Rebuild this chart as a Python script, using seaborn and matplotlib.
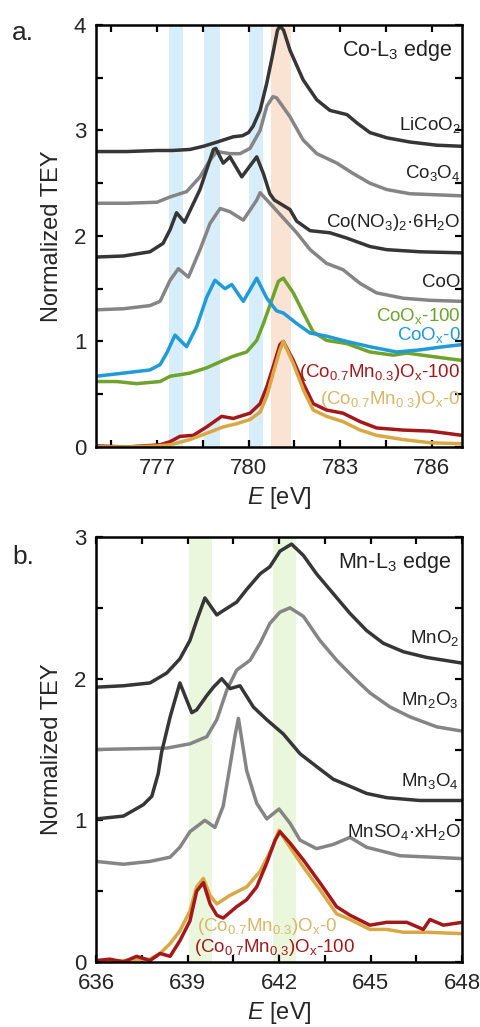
import numpy as np
import pandas as pd
import matplotlib
matplotlib.use("Agg")
import matplotlib.pyplot as plt
import seaborn as sns
from matplotlib.ticker import MultipleLocator

sns.set_theme(style="ticks")
plt.rcParams['font.family'] = ['Liberation Sans', 'DejaVu Sans']
plt.rcParams['mathtext.fontset'] = 'custom'
plt.rcParams['mathtext.rm'] = 'Liberation Sans'
plt.rcParams['mathtext.it'] = 'Liberation Sans:italic'

# ---------------- Panel a: Co-L3 edge ----------------
E_licoo2 = [775.0, 776.0, 777.0, 777.5, 778.08, 778.52, 778.97, 779.5, 779.8, 780.0, 780.15, 780.38, 780.6, 780.8,
            780.95, 781.03, 781.15, 781.36, 781.79, 782.24, 782.67, 783.23, 783.56, 783.98, 784.54, 785.3, 786.18, 787.0]
v_licoo2 = [2.80, 2.80, 2.81, 2.81, 2.82, 2.85, 2.89, 2.94, 2.95, 2.98, 3.04, 3.19, 3.45, 3.73,
            3.95, 3.99, 3.95, 3.76, 3.48, 3.29, 3.19, 3.15, 3.07, 2.98, 2.93, 2.89, 2.86, 2.85]

E_co3o4 = [775.0, 776.0, 777.0, 777.43, 777.97, 778.41, 778.74, 778.96, 779.39, 779.72, 780.05, 780.38, 780.6,
           780.8, 780.92, 781.36, 781.79, 782.24, 782.9, 783.44, 783.98, 784.53, 785.3, 786.17, 787.0]
v_co3o4 = [2.31, 2.31, 2.32, 2.37, 2.42, 2.56, 2.72, 2.80, 2.78, 2.78, 2.83, 3.00, 3.23,
           3.32, 3.31, 3.13, 2.91, 2.78, 2.69, 2.59, 2.50, 2.44, 2.40, 2.39, 2.38]

E_conit = [775.0, 775.9, 776.77, 777.2, 777.43, 777.64, 777.9, 778.41, 778.85, 778.93, 779.17, 779.39, 779.78,
           780.27, 780.49, 780.7, 780.85, 781.36, 781.58, 782.02, 782.67, 783.22, 783.98, 784.53, 785.62, 787.0]
v_conit = [1.80, 1.81, 1.85, 1.93, 2.06, 2.22, 2.13, 2.44, 2.82, 2.83, 2.69, 2.75, 2.56,
           2.75, 2.59, 2.40, 2.34, 2.25, 2.14, 2.05, 2.03, 1.98, 1.90, 1.87, 1.85, 1.84]

E_coo = [775.0, 775.9, 776.77, 777.1, 777.43, 777.7, 778.03, 778.41, 778.74, 779.07, 779.39, 779.83, 780.27,
         780.38, 780.7, 781.14, 781.58, 782.02, 782.56, 783.1, 783.66, 784.2, 785.07, 785.95, 787.0]
v_coo = [1.30, 1.31, 1.34, 1.38, 1.58, 1.69, 1.61, 1.87, 2.12, 2.26, 2.23, 2.15, 2.34,
         2.41, 2.31, 2.17, 2.03, 1.87, 1.74, 1.68, 1.55, 1.46, 1.41, 1.39, 1.38]

E_coox0 = [775.0, 775.9, 776.77, 777.1, 777.32, 777.59, 777.97, 778.3, 778.63, 778.9, 779.23, 779.45, 779.83,
           780.27, 780.6, 780.92, 781.14, 781.58, 782.02, 782.56, 783.22, 783.98, 784.86, 785.62, 786.39, 787.0]
v_coox0 = [0.67, 0.70, 0.73, 0.78, 0.89, 1.06, 0.95, 1.14, 1.42, 1.58, 1.50, 1.54, 1.38,
           1.60, 1.41, 1.29, 1.27, 1.17, 1.08, 1.05, 1.00, 0.95, 0.90, 0.92, 0.95, 0.97]

E_coox100 = [775.0, 775.68, 776.33, 777.1, 777.43, 778.08, 778.63, 779.17, 779.5, 779.94, 780.27, 780.49, 780.76,
             780.98, 781.14, 781.47, 781.8, 782.12, 782.56, 783.22, 783.98, 784.75, 785.19, 785.95, 787.0]
v_coox100 = [0.62, 0.62, 0.60, 0.62, 0.67, 0.70, 0.75, 0.82, 0.86, 0.90, 1.01, 1.17, 1.39,
             1.57, 1.60, 1.46, 1.27, 1.09, 1.01, 0.98, 0.90, 0.87, 0.89, 0.86, 0.82]

E_comn100_a = [775.0, 776.0, 777.1, 777.43, 777.75, 778.19, 778.63, 779.12, 779.5, 780.05, 780.38, 780.6, 780.81,
               781.03, 781.14, 781.47, 781.8, 782.12, 782.56, 783.1, 783.66, 784.2, 785.07, 785.95, 787.0]
v_comn100_a = [0.01, 0.0, 0.02, 0.05, 0.10, 0.11, 0.19, 0.29, 0.27, 0.32, 0.41, 0.57, 0.76,
               0.97, 1.00, 0.82, 0.60, 0.41, 0.35, 0.32, 0.24, 0.18, 0.16, 0.15, 0.11]

E_comn0_a = [775.0, 776.0, 777.0, 777.43, 778.08, 778.63, 779.17, 779.61, 780.05, 780.38, 780.6, 780.81, 781.03,
             781.14, 781.47, 781.8, 782.12, 782.56, 783.1, 783.66, 784.2, 785.07, 785.95, 787.0]
v_comn0_a = [0.0, 0.0, 0.01, 0.02, 0.07, 0.13, 0.19, 0.22, 0.26, 0.33, 0.48, 0.70, 0.92,
             1.00, 0.79, 0.54, 0.35, 0.29, 0.24, 0.16, 0.11, 0.07, 0.04, 0.03]

bands_a_blue = [(777.4, 777.85), (778.55, 779.05), (780.0, 780.48)]
bands_a_orange = [(780.75, 781.4)]

# ---------------- Panel b: Mn-L3 edge ----------------
E_mno2 = [636.0, 636.9, 637.77, 638.32, 638.75, 639.08, 639.3, 639.57, 639.96, 640.17, 640.61, 640.94, 641.38,
          641.7, 642.03, 642.41, 642.8, 643.23, 643.78, 644.33, 644.87, 645.42, 646.08, 646.84, 648.0]
v_mno2 = [1.94, 1.95, 1.97, 2.04, 2.14, 2.27, 2.41, 2.57, 2.45, 2.48, 2.54, 2.63, 2.74,
          2.79, 2.90, 2.95, 2.87, 2.74, 2.60, 2.46, 2.34, 2.25, 2.19, 2.15, 2.11]

E_mn2o3 = [636.0, 638.32, 639.08, 639.63, 639.96, 640.29, 640.61, 641.05, 641.38, 641.7, 642.03, 642.36, 642.8,
           643.34, 643.89, 644.44, 644.98, 645.64, 646.3, 647.17, 648.0]
v_mn2o3 = [1.50, 1.51, 1.54, 1.59, 1.71, 1.92, 2.06, 2.13, 2.25, 2.39, 2.47, 2.50, 2.44,
           2.27, 2.13, 2.01, 1.90, 1.80, 1.73, 1.66, 1.63]

E_mn3o4 = [636.0, 636.9, 637.55, 637.83, 638.04, 638.15, 638.43, 638.75, 639.14, 639.3, 639.63, 639.85, 640.12,
           640.4, 640.72, 641.16, 641.6, 642.14, 642.69, 643.23, 643.78, 644.44, 644.87, 645.53, 646.62, 648.0]
v_mn3o4 = [1.01, 1.03, 1.11, 1.17, 1.33, 1.48, 1.73, 1.97, 1.76, 1.78, 1.88, 1.94, 2.00,
           1.93, 1.95, 1.80, 1.71, 1.61, 1.47, 1.38, 1.29, 1.23, 1.19, 1.16, 1.14, 1.14]

E_mnso4 = [636.0, 636.9, 637.77, 638.43, 638.75, 639.08, 639.57, 639.9, 640.17, 640.39, 640.56, 640.67, 640.94,
           641.27, 641.6, 642.0, 642.36, 642.69, 643.23, 643.78, 644.33, 644.87, 645.97, 647.0, 648.0]
v_mnso4 = [0.71, 0.69, 0.71, 0.74, 0.81, 0.92, 1.00, 0.95, 1.10, 1.38, 1.60, 1.72, 1.35,
           1.12, 1.01, 1.08, 0.98, 0.86, 0.80, 0.83, 0.88, 0.81, 0.75, 0.74, 0.73]

E_comn100_b = [636.0, 636.46, 636.9, 637.33, 637.77, 638.1, 638.43, 638.75, 639.08, 639.3, 639.52, 639.74, 639.96,
               640.17, 640.61, 640.94, 641.27, 641.6, 641.87, 642.03, 642.36, 642.8, 643.34, 643.89, 644.33,
               644.98, 645.53, 646.19, 646.73, 646.95, 647.39, 648.0]
v_comn100_b = [0.01, 0.02, 0.0, 0.04, 0.01, 0.06, 0.04, 0.15, 0.29, 0.50, 0.56, 0.41, 0.33,
               0.31, 0.39, 0.44, 0.53, 0.70, 0.86, 0.92, 0.84, 0.72, 0.56, 0.39, 0.33,
               0.26, 0.28, 0.28, 0.23, 0.30, 0.26, 0.28]

E_comn0_b = [636.0, 636.9, 637.77, 638.1, 638.43, 638.75, 639.08, 639.3, 639.52, 639.74, 639.96, 640.39, 640.94,
             641.38, 641.81, 642.0, 642.36, 642.8, 643.34, 643.89, 644.33, 644.98, 645.53, 646.08, 646.84, 648.0]
v_comn0_b = [0.0, 0.01, 0.02, 0.06, 0.13, 0.22, 0.36, 0.53, 0.59, 0.47, 0.41, 0.47, 0.53,
             0.64, 0.82, 0.93, 0.81, 0.67, 0.51, 0.34, 0.30, 0.23, 0.23, 0.21, 0.21, 0.20]

bands_b_green = [(639.05, 639.8), (641.8, 642.55)]

# ---------------- styling ----------------
DARK = "#363636"
GRAY = "#858585"
BLUE = "#1f9bd7"
GREEN = "#6ea32c"
RED = "#a3191b"
GOLD = "#d9a743"
GOLD_TXT = "#d8b668"
LW = 2.5

fig = plt.figure(figsize=(4.81, 10.27), dpi=100)
ax_a = fig.add_axes([0.1996, 0.5648, 0.7609, 0.4109])
ax_b = fig.add_axes([0.1996, 0.0633, 0.7609, 0.4138])


def line(ax, x, y, color):
    sns.lineplot(x=x, y=y, color=color, lw=LW, ax=ax, sort=False, estimator=None,
                 solid_joinstyle="round", solid_capstyle="butt")


for lo, hi in bands_a_blue:
    ax_a.axvspan(lo, hi, color="#d8edfa", lw=0, zorder=0)
for lo, hi in bands_a_orange:
    ax_a.axvspan(lo, hi, color="#fbe3d3", lw=0, zorder=0)

line(ax_a, E_licoo2, v_licoo2, DARK)
line(ax_a, E_co3o4, v_co3o4, GRAY)
line(ax_a, E_conit, v_conit, DARK)
line(ax_a, E_coo, v_coo, GRAY)
line(ax_a, E_coox100, v_coox100, GREEN)
line(ax_a, E_coox0, v_coox0, BLUE)
line(ax_a, E_comn100_a, v_comn100_a, RED)
line(ax_a, E_comn0_a, v_comn0_a, GOLD)

for lo, hi in bands_b_green:
    ax_b.axvspan(lo, hi, color="#eaf7dd", lw=0, zorder=0)

line(ax_b, E_mno2, v_mno2, DARK)
line(ax_b, E_mn2o3, v_mn2o3, GRAY)
line(ax_b, E_mn3o4, v_mn3o4, DARK)
line(ax_b, E_mnso4, v_mnso4, GRAY)
line(ax_b, E_comn0_b, v_comn0_b, GOLD)
line(ax_b, E_comn100_b, v_comn100_b, RED)

ax_a.set_xlim(775, 787)
ax_a.set_ylim(0, 4)
ax_a.xaxis.set_major_locator(MultipleLocator(3))
ax_a.xaxis.set_minor_locator(MultipleLocator(1.5))
ax_b.set_xlim(636, 648)
ax_b.set_ylim(0, 3)
ax_b.xaxis.set_major_locator(MultipleLocator(3))
ax_b.xaxis.set_minor_locator(MultipleLocator(1.5))

for ax, xpad in ((ax_a, 8), (ax_b, 8)):
    ax.yaxis.set_major_locator(MultipleLocator(1))
    ax.yaxis.set_minor_locator(MultipleLocator(0.5))
    ax.tick_params(which="both", direction="in", top=True, right=True, length=5, width=1.6,
                   color="black", labelsize=16)
    ax.tick_params(axis="x", pad=xpad)
    ax.tick_params(axis="y", pad=7)
    for s in ax.spines.values():
        s.set_linewidth(1.8)
        s.set_color("black")
    ax.set_xlabel(r"$\mathit{E}$ [eV]", fontsize=17, labelpad=4)
    ax.set_ylabel("Normalized TEY", fontsize=17, labelpad=8)

FS = 13.5
xr = 786.95
ax_a.text(786.7, 3.76, r"Co-L$_3$ edge", fontsize=15.5, ha="right", va="center", color="#222222")
ax_a.text(xr, 3.05, r"LiCoO$_2$", fontsize=FS, ha="right", va="center", color="#222222")
ax_a.text(xr, 2.60, r"Co$_3$O$_4$", fontsize=FS, ha="right", va="center", color="#222222")
ax_a.text(xr, 2.13, r"Co(NO$_3$)$_2$·6H$_2$O", fontsize=FS, ha="right", va="center", color="#222222")
ax_a.text(xr, 1.56, "CoO", fontsize=FS, ha="right", va="center", color="#222222")
ax_a.text(xr, 1.24, r"CoO$_\mathrm{x}$-100", fontsize=FS, ha="right", va="center", color=GREEN)
ax_a.text(xr, 1.06, r"CoO$_\mathrm{x}$-0", fontsize=FS, ha="right", va="center", color=BLUE)
ax_a.text(xr, 0.71, r"(Co$_{0.7}$Mn$_{0.3}$)O$_\mathrm{x}$-100", fontsize=FS, ha="right", va="center", color=RED)
ax_a.text(xr, 0.45, r"(Co$_{0.7}$Mn$_{0.3}$)O$_\mathrm{x}$-0", fontsize=FS, ha="right", va="center", color=GOLD_TXT)

xrb = 647.9
ax_b.text(647.65, 2.82, r"Mn-L$_3$ edge", fontsize=15.5, ha="right", va="center", color="#222222")
ax_b.text(xrb, 2.29, r"MnO$_2$", fontsize=FS, ha="right", va="center", color="#222222")
ax_b.text(xrb, 1.85, r"Mn$_2$O$_3$", fontsize=FS, ha="right", va="center", color="#222222")
ax_b.text(xrb, 1.28, r"Mn$_3$O$_4$", fontsize=FS, ha="right", va="center", color="#222222")
ax_b.text(647.95, 0.92, r"MnSO$_4$·xH$_2$O", fontsize=FS, ha="right", va="center", color="#222222")
ax_b.text(639.3, 0.25, r"(Co$_{0.7}$Mn$_{0.3}$)O$_\mathrm{x}$-0", fontsize=FS, ha="left", va="center", color=GOLD_TXT)
ax_b.text(639.2, 0.10, r"(Co$_{0.7}$Mn$_{0.3}$)O$_\mathrm{x}$-100", fontsize=FS, ha="left", va="center", color=RED)

fig.text(12 / 481, 1 - 33 / 1027, "a.", fontsize=19, ha="left", va="center")
fig.text(12 / 481, 1 - 557 / 1027, "b.", fontsize=19, ha="left", va="center")

fig.savefig("out.png", dpi=100)
